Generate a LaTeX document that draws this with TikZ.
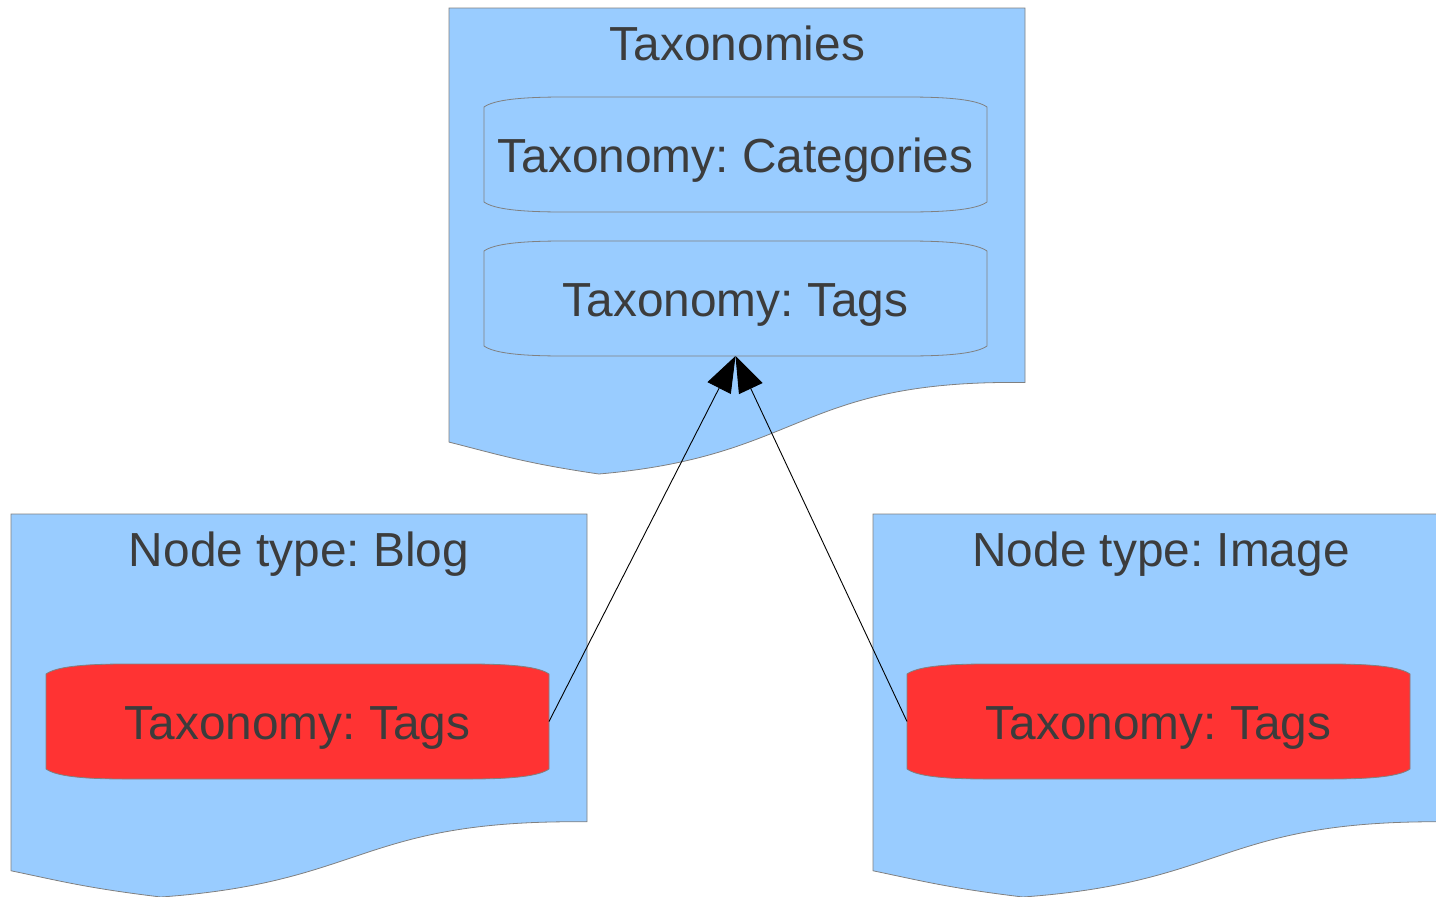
\documentclass[tikz,border=0pt]{standalone}
\usepackage{fontspec}
\setmainfont{Liberation Sans}
\frenchspacing
\usetikzlibrary{arrows.meta,calc}
\definecolor{docblue}{HTML}{99CCFF}
\definecolor{tagred}{HTML}{FF3333}
\definecolor{edgegray}{HTML}{808080}
\definecolor{txt}{HTML}{3C3C3C}
\tikzset{
  docshape/.style={fill=docblue,draw=edgegray,line width=0.8pt},
  canbox/.style={minimum width=503pt,minimum height=115pt,inner sep=0pt,outer sep=0pt},
  bigtext/.style={font=\fontsize{47.8}{56}\selectfont,text=txt,inner sep=0pt},
  link/.style={draw=black,line width=0.9pt,-{Triangle[length=36pt,width=26pt]}}
}
\newcommand{\canshape}[2]{%
  \path[fill=#2,draw=edgegray,line width=0.8pt]
   ([yshift=-10pt]#1.north west) -- ([yshift=10pt]#1.south west)
   .. controls ([xshift=10pt,yshift=3pt]#1.south west) and ([xshift=35pt]#1.south west) .. ([xshift=80pt]#1.south west)
   -- ([xshift=-80pt]#1.south east)
   .. controls ([xshift=-35pt]#1.south east) and ([xshift=-10pt,yshift=3pt]#1.south east) .. ([yshift=10pt]#1.south east)
   -- ([yshift=-10pt]#1.north east)
   .. controls ([xshift=-10pt,yshift=-3pt]#1.north east) and ([xshift=-35pt]#1.north east) .. ([xshift=-80pt]#1.north east)
   -- ([xshift=80pt]#1.north west)
   .. controls ([xshift=35pt]#1.north west) and ([xshift=10pt,yshift=-3pt]#1.north west) .. ([yshift=-10pt]#1.north west)
   -- cycle;}
\newcommand{\docpath}[4]{%
  \begin{scope}[shift={(#1,#2)},x=#3pt,y=-#4pt]
    \path[docshape] (0,0) -- (1,0) -- (1,0.8037)
      .. controls (0.6042,0.7972) and (0.6176,0.9616) .. (0.2602,1)
      .. controls (0.1324,0.9769) and (0.0856,0.9583) .. (0,0.9315) -- cycle;
  \end{scope}}
\begin{document}
\begin{tikzpicture}[x=1pt,y=-1pt]
  \useasboundingbox (0,0) rectangle (1436,897);
  \clip (0,0) rectangle (1436,897);
  % document shapes
  \docpath{449}{8}{576}{466}
  \docpath{11}{514}{576}{383}
  \docpath{873}{514}{576}{383}
  % titles
  \node[bigtext,anchor=base] (ttax) at (737.5,60) {Taxonomies};
  \node[bigtext,anchor=base] (tblog) at (299,566) {Node type: Blog};
  \node[bigtext,anchor=base] (timg) at (1161,566) {Node type: Image};
  % cans
  \node[canbox] (cats) at (735.5,154.5) {};
  \node[canbox] (tags) at (735.5,298.5) {};
  \node[canbox] (blogtags) at (297.5,721.5) {};
  \node[canbox] (imgtags) at (1158.5,721.5) {};
  \canshape{cats}{docblue}
  \canshape{tags}{docblue}
  \canshape{blogtags}{tagred}
  \canshape{imgtags}{tagred}
  \node[bigtext,anchor=base] (catsT) at ($(cats.center)+(0,17.5)$) {Taxonomy: Categories};
  \node[bigtext,anchor=base] (tagsT) at ($(tags.center)+(0,17.5)$) {Taxonomy: Tags};
  \node[bigtext,anchor=base] (blogT) at ($(blogtags.center)+(0,17.5)$) {Taxonomy: Tags};
  \node[bigtext,anchor=base] (imgT) at ($(imgtags.center)+(0,17.5)$) {Taxonomy: Tags};
  % connectors
  \draw[link] (blogtags.east) -- (tags.south);
  \draw[link] (imgtags.west) -- (tags.south);
\end{tikzpicture}
\end{document}
